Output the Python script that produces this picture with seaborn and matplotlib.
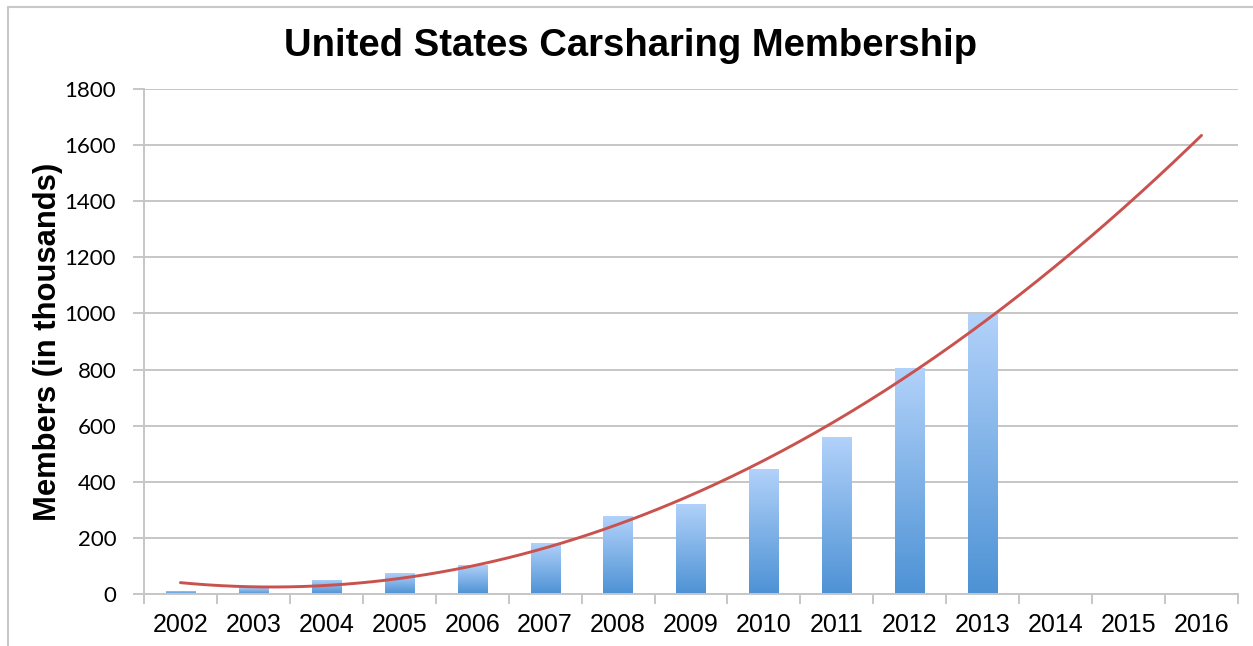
import numpy as np
import pandas as pd
import seaborn as sns
import matplotlib
matplotlib.use("Agg")
import matplotlib.pyplot as plt
from matplotlib.lines import Line2D
from matplotlib.colors import LinearSegmentedColormap

# data (members in thousands)
years = [str(y) for y in range(2002, 2017)]
bar_years = years[:12]
members = [12, 24, 51, 76, 104, 182, 277, 322, 447, 561, 806, 999]
yticks = list(range(0, 1801, 200))

df = pd.DataFrame({"year": bar_years, "members": members})

sns.set_theme(style="white")
plt.rcParams['font.family'] = ['Liberation Sans', 'DejaVu Sans']
plt.rcParams['text.color'] = 'black'
plt.rcParams['axes.labelcolor'] = 'black'
plt.rcParams['xtick.labelcolor'] = 'black'
plt.rcParams['ytick.labelcolor'] = 'black'

grid_col = "#c6c6c6"

fig, ax = plt.subplots(figsize=(12.53, 6.46), dpi=100)
fig.subplots_adjust(left=0.1149, right=0.988, bottom=0.0805, top=0.8622)

sns.barplot(data=df, x="year", y="members", order=years, color="#7fb2e8",
            width=0.4, saturation=1, ax=ax)

# vertical gradient on each bar (light at top, darker at bottom)
cmap = LinearSegmentedColormap.from_list("bargrad", ["#4d92d5", "#b2d2fa"])
grad = np.linspace(0, 1, 256).reshape(-1, 1)
for p in ax.patches:
    x0, y0 = p.get_x(), p.get_y()
    w, h = p.get_width(), p.get_height()
    im = ax.imshow(grad, cmap=cmap, extent=[x0, x0 + w, y0, y0 + h],
                   origin="lower", aspect="auto", zorder=2)
    im.set_clip_path(p)
    p.set_facecolor("none")
    p.set_edgecolor("none")

# polynomial (order 2) trend line, projected to 2016
coef = np.polyfit(np.arange(len(members)), members, 2)
xs = np.linspace(0, len(years) - 1, 300)
sns.lineplot(x=xs, y=np.polyval(coef, xs), color="#c9524e", lw=2.1, ax=ax, zorder=3)

ax.set_xlim(-0.5, len(years) - 0.5)
ax.set_ylim(0, 1800)
ax.set_yticks(yticks)
ax.set_xticks(np.arange(-0.5, len(years), 1), labels=[""] * (len(years) + 1))
ax.set_xticks(np.arange(len(years)), labels=years, minor=True)
ax.tick_params(axis="x", which="major", bottom=True, length=7, width=1.4, color=grid_col)
ax.tick_params(axis="x", which="minor", bottom=True, length=0, pad=14, labelsize=18)
ax.tick_params(axis="y", left=True, length=8, width=1.4, color=grid_col, pad=12)
for lab in ax.get_yticklabels():
    lab.set_fontfamily("Lato")
    lab.set_fontsize(16)
    lab.set_color("black")
for lab in ax.get_xticklabels(minor=True):
    lab.set_color("black")

ax.yaxis.grid(True, color=grid_col, lw=1.4)
ax.set_axisbelow(True)
for s in ["top", "right"]:
    ax.spines[s].set_visible(False)
for s in ["left", "bottom"]:
    ax.spines[s].set_color(grid_col)
    ax.spines[s].set_linewidth(1.4)

ax.set_xlabel("")
ax.set_ylabel("Members (in thousands)", fontsize=22.3, fontweight="bold", color="black")
ax.yaxis.set_label_coords(-0.074, 0.5)

fig.text(0.5035, 1 - 46 / 646, "United States Carsharing Membership",
         ha="center", va="center", fontsize=27.5, fontweight="bold", color="black")

# frame lines of the original screenshot (left and top only)
fig.add_artist(Line2D([8 / 1253, 8 / 1253], [0, 1 - 7 / 646], color="#c8c8c8", lw=1.5))
fig.add_artist(Line2D([8 / 1253, 1], [1 - 7 / 646, 1 - 7 / 646], color="#c8c8c8", lw=1.5))

fig.savefig("out.png", dpi=100)
